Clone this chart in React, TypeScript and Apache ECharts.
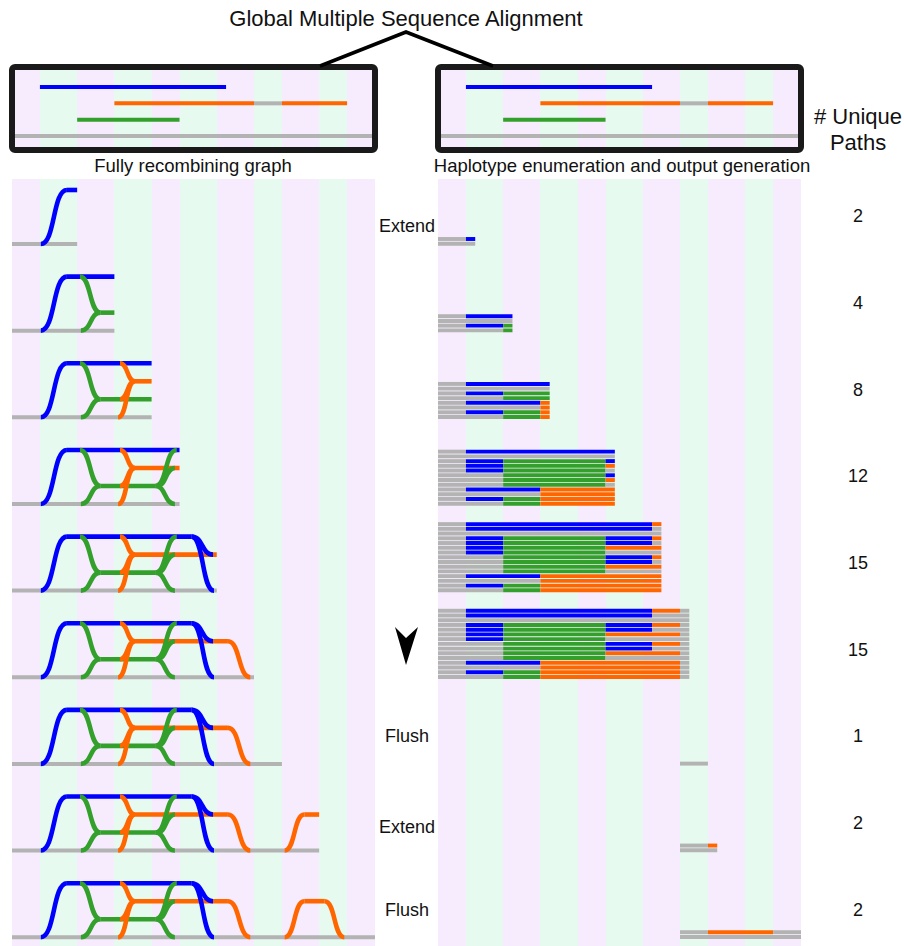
import React, { useEffect, useRef } from "react";
import * as echarts from "echarts";

// ---------------- data ----------------
// alignment column boundaries (position units) that delimit the background stripes
const stripeBounds = [0, 3, 7, 11, 15, 18, 22, 26, 29, 33, 36, 39];

// global MSA: [track, colour, from, to]
const msaSegments: [number, string, number, number][] = [
  [0, "blue", 3, 23],
  [1, "orange", 11, 26],
  [1, "gray", 26, 29],
  [1, "orange", 29, 36],
  [2, "green", 7, 18],
  [3, "gray", 0, 39],
];

// recombination graph edges: [colour, x0, level0, x1, level1]  (level: 0 ref, 1 green, 2 orange, 3 blue)
const graphEdges: [string, number, number, number, number][] = [
  ["gray", 0, 0, 39, 0],
  ["blue", 3.1, 0, 5.9, 3],
  ["blue", 5.9, 3, 19.3, 3],
  ["green", 7.3, 3, 9.5, 1],
  ["green", 7.4, 0, 9.5, 1],
  ["green", 9.5, 1, 15.4, 1],
  ["orange", 11.6, 3, 13.2, 2],
  ["orange", 11.6, 1, 13.2, 2],
  ["orange", 11.4, 0, 13.2, 2],
  ["orange", 13.2, 2, 23.2, 2],
  ["green", 15.4, 1, 17.7, 3],
  ["green", 15.6, 1, 17.5, 2],
  ["green", 15.4, 1, 17.5, 0],
  ["blue", 19.3, 3, 21.6, 2],
  ["blue", 19.3, 3, 21.7, 0],
  ["orange", 23.2, 2, 25.6, 0],
  ["orange", 29.3, 0, 31.4, 2],
  ["orange", 31.4, 2, 33.6, 2],
  ["orange", 33.6, 2, 35.7, 0],
];
const graphRowEnds = [7, 11, 15, 18, 22, 26, 29, 33, 39];

// enumerated haplotypes per step: colour code + start position (R ref, B blue, G green, O orange)
const hapRowEnds = [4, 8, 12, 19, 24, 27, 29, 30, 39];
const hapRows: string[][] = [
  ["R0 B3", "R0"],
  ["R0 B3", "R0", "R0 B3 G7", "R0 G7"],
  ["R0 B3", "R0", "R0 B3 G7", "R0 G7", "R0 B3 O11", "R0 O11", "R0 B3 G7 O11", "R0 G7 O11"],
  ["R0 B3", "R0", "R0 B3 G7 B18", "R0 B3 G7 O18", "R0 B3 G7 R18", "R0 G7 B18", "R0 G7 O18", "R0 G7 R18",
    "R0 B3 O11", "R0 O11", "R0 B3 G7 O11", "R0 G7 O11"],
  ["R0 B3 O23", "R0 B3 R23", "R0", "R0 B3 G7 B18 O23", "R0 B3 G7 B18 R23", "R0 B3 G7 O18", "R0 B3 G7 R18",
    "R0 G7 B18 O23", "R0 G7 B18 R23", "R0 G7 O18", "R0 G7 R18", "R0 B3 O11", "R0 O11", "R0 B3 G7 O11", "R0 G7 O11"],
  ["R0 B3 O23 R26", "R0 B3 R23", "R0", "R0 B3 G7 B18 O23 R26", "R0 B3 G7 B18 R23", "R0 B3 G7 O18 R26", "R0 B3 G7 R18",
    "R0 G7 B18 O23 R26", "R0 G7 B18 R23", "R0 G7 O18 R26", "R0 G7 R18", "R0 B3 O11 R26", "R0 O11 R26",
    "R0 B3 G7 O11 R26", "R0 G7 O11 R26"],
  ["R26"],
  ["R26 O29", "R26"],
  ["R26 O29 R36", "R26"],
];

// step annotations between the panels
const stepLabels = ["Extend", "Flush", "Extend", "Flush"];
const stepLabelRows = [0, 6, 7, 8];

// ---------------- styles / layout ----------------
const COLORS: Record<string, string> = { blue: "#0000FF", orange: "#FF6600", green: "#33A02C", gray: "#B3B3B3" };
const CODE: Record<string, string> = { B: "blue", O: "orange", G: "green", R: "gray" };
const COLOR_KEYS = ["gray", "blue", "green", "orange"];
const STRIPE_FILL = ["#F6ECFD", "#E6FAF0"];
const FONT = "'Liberation Sans', Arial, Helvetica, sans-serif";

const LEFT_X = 12;
const RIGHT_X = 438;
const PANEL_W = 363;
const BOX_TOP = 67;
const BOX_H = 83;
const TRACK_PX = 16.33;
const TRACK_OFF = 1.225;
const MAIN_TOP = 179;
const MAIN_H = 767;
const ROW_PX = 86.65;
const ROW_OFF = 0.75;
const LEVEL = 18 / ROW_PX;
const STRIP = 4.73 / ROW_PX;
const STRIP_DROP = 2.5 / ROW_PX;
const STEP_LABEL_DY = [-18, -27.5, -24, -27.5];

const baselinePx = (r: number) => MAIN_TOP + (r + ROW_OFF) * ROW_PX;

function stripeSeries(idx: number) {
  return {
    type: "custom",
    xAxisIndex: idx,
    yAxisIndex: idx,
    silent: true,
    z: 1,
    data: stripeBounds.slice(0, -1).map((b, i) => [b, stripeBounds[i + 1], i]),
    renderItem: (params: any, api: any) => {
      const cs = params.coordSys;
      const x0 = Math.round(api.coord([api.value(0), 0])[0]);
      const x1 = Math.round(api.coord([api.value(1), 0])[0]);
      return {
        type: "rect",
        shape: { x: x0, y: cs.y, width: x1 - x0, height: cs.height },
        style: { fill: STRIPE_FILL[api.value(2) % 2] },
      };
    },
  };
}

function msaSeries(idx: number) {
  return {
    type: "custom",
    xAxisIndex: idx,
    yAxisIndex: idx,
    silent: true,
    z: 3,
    data: msaSegments.map((s) => [s[2], s[0], s[3], COLOR_KEYS.indexOf(s[1])]),
    renderItem: (_p: any, api: any) => {
      const a = api.coord([api.value(0), api.value(1)]);
      const b = api.coord([api.value(2), api.value(1)]);
      return {
        type: "line",
        shape: { x1: a[0], y1: a[1], x2: b[0], y2: b[1] },
        style: { stroke: COLORS[COLOR_KEYS[api.value(3)]], lineWidth: 4, lineCap: "butt" },
      };
    },
  };
}

function buildGraphData() {
  const out: number[][] = [];
  graphRowEnds.forEach((end, r) => {
    graphEdges.forEach((e, i) => {
      const [, x0, l0, x1, l1] = e;
      if (l0 === l1) {
        if (x0 < end) out.push([r, i, Math.min(x1, end)]);
      } else if (x1 <= end + 1e-6) {
        out.push([r, i, x1]);
      }
    });
  });
  return out;
}

function buildHapData() {
  const out: number[][] = [];
  hapRows.forEach((haps, r) => {
    const end = hapRowEnds[r];
    haps.forEach((h, k) => {
      const toks = h.split(" ").map((t) => [CODE[t[0]], Number(t.slice(1))] as [string, number]);
      toks.forEach((t, j) => {
        const to = j + 1 < toks.length ? toks[j + 1][1] : end;
        out.push([t[1], r, to, k, haps.length, COLOR_KEYS.indexOf(t[0])]);
      });
    });
  });
  return out;
}

export default function App() {
  const ref = useRef<HTMLDivElement>(null);
  useEffect(() => {
    if (!ref.current) return;
    const chart = echarts.init(ref.current, undefined, { renderer: "svg" });

    const grids = [
      { left: LEFT_X, top: BOX_TOP, width: PANEL_W, height: BOX_H },
      { left: RIGHT_X, top: BOX_TOP, width: PANEL_W, height: BOX_H },
      { left: LEFT_X, top: MAIN_TOP, width: PANEL_W, height: MAIN_H },
      { left: RIGHT_X, top: MAIN_TOP, width: PANEL_W, height: MAIN_H },
    ];
    const xAxes = grids.map((_, i) => ({ type: "value", gridIndex: i, min: 0, max: 39, show: false }));
    const yAxes = grids.map((_, i) =>
      i < 2
        ? { type: "value", gridIndex: i, inverse: true, min: -TRACK_OFF, max: BOX_H / TRACK_PX - TRACK_OFF, show: false }
        : { type: "value", gridIndex: i, inverse: true, min: -ROW_OFF, max: MAIN_H / ROW_PX - ROW_OFF, show: false }
    );

    const graphSeries = {
      type: "custom",
      xAxisIndex: 2,
      yAxisIndex: 2,
      silent: true,
      z: 3,
      data: buildGraphData(),
      renderItem: (_p: any, api: any) => {
        const r = api.value(0);
        const e = graphEdges[api.value(1)];
        const xe = api.value(2);
        const [col, x0, l0, , l1] = e;
        const a = api.coord([x0, r - l0 * LEVEL]);
        const b = api.coord([xe, r - l1 * LEVEL]);
        const style = { stroke: COLORS[col], lineWidth: col === "gray" ? 4 : 4.6, lineCap: "butt", fill: null };
        if (l0 === l1) {
          return { type: "line", shape: { x1: a[0], y1: a[1], x2: b[0], y2: b[1] }, style };
        }
        const dx = (b[0] - a[0]) * 0.55;
        return {
          type: "bezierCurve",
          shape: { x1: a[0], y1: a[1], x2: b[0], y2: b[1], cpx1: a[0] + dx, cpy1: a[1], cpx2: b[0] - dx, cpy2: b[1] },
          style,
        };
      },
    };

    const hapSeries = {
      type: "custom",
      xAxisIndex: 3,
      yAxisIndex: 3,
      silent: true,
      z: 3,
      data: buildHapData(),
      renderItem: (_p: any, api: any) => {
        const x0 = api.value(0);
        const r = api.value(1);
        const x1 = api.value(2);
        const k = api.value(3);
        const n = api.value(4);
        const top = r + STRIP_DROP - (n - k) * STRIP;
        const a = api.coord([x0, top]);
        const b = api.coord([x1, top + STRIP]);
        return {
          type: "rect",
          shape: { x: a[0], y: a[1], width: b[0] - a[0], height: b[1] - a[1] - 0.8 },
          style: { fill: COLORS[COLOR_KEYS[api.value(5)]] },
        };
      },
    };

    const text = (x: number, y: number, s: string, size: number) => ({
      type: "text",
      x,
      y,
      z: 100,
      style: { text: s, fontSize: size, fontFamily: FONT, fill: "#111", align: "center", verticalAlign: "middle" },
    });

    const graphic: any[] = [
      {
        type: "rect", z: 100,
        shape: { x: LEFT_X, y: BOX_TOP, width: PANEL_W, height: BOX_H, r: 3 },
        style: { fill: "rgba(0,0,0,0)", stroke: "#1a1a1a", lineWidth: 6 },
      },
      {
        type: "rect", z: 100,
        shape: { x: RIGHT_X, y: BOX_TOP, width: PANEL_W, height: BOX_H, r: 3 },
        style: { fill: "rgba(0,0,0,0)", stroke: "#1a1a1a", lineWidth: 6 },
      },
      {
        type: "polyline", z: 100,
        shape: { points: [[320, 66], [406, 32], [493, 66]] },
        style: { stroke: "#000", lineWidth: 3.5, fill: null },
      },
      text(406, 18, "Global Multiple Sequence Alignment", 22),
      text(193, 165, "Fully recombining graph", 18.5),
      text(622, 165, "Haplotype enumeration and output generation", 18.5),
      text(858, 116, "# Unique", 22),
      text(858, 142, "Paths", 22),
      {
        type: "polygon", z: 100,
        shape: { points: [[395, 627], [406, 665], [418, 627], [406, 638]] },
        style: { fill: "#000" },
      },
    ];
    stepLabels.forEach((s, i) => {
      graphic.push(text(407, baselinePx(stepLabelRows[i]) + STEP_LABEL_DY[i], s, 18));
    });
    hapRows.forEach((haps, r) => {
      graphic.push(text(858, baselinePx(r) - 27.5, String(haps.length), 18));
    });

    chart.setOption({
      animation: false,
      backgroundColor: "#ffffff",
      grid: grids,
      xAxis: xAxes,
      yAxis: yAxes,
      series: [
        stripeSeries(0),
        stripeSeries(1),
        stripeSeries(2),
        stripeSeries(3),
        msaSeries(0),
        msaSeries(1),
        graphSeries,
        hapSeries,
      ],
      graphic,
    });
    return () => chart.dispose();
  }, []);

  return (
    <div
      ref={ref}
      style={{ position: "absolute", left: 0, top: 0, width: 904, height: 946 }}
    />
  );
}
